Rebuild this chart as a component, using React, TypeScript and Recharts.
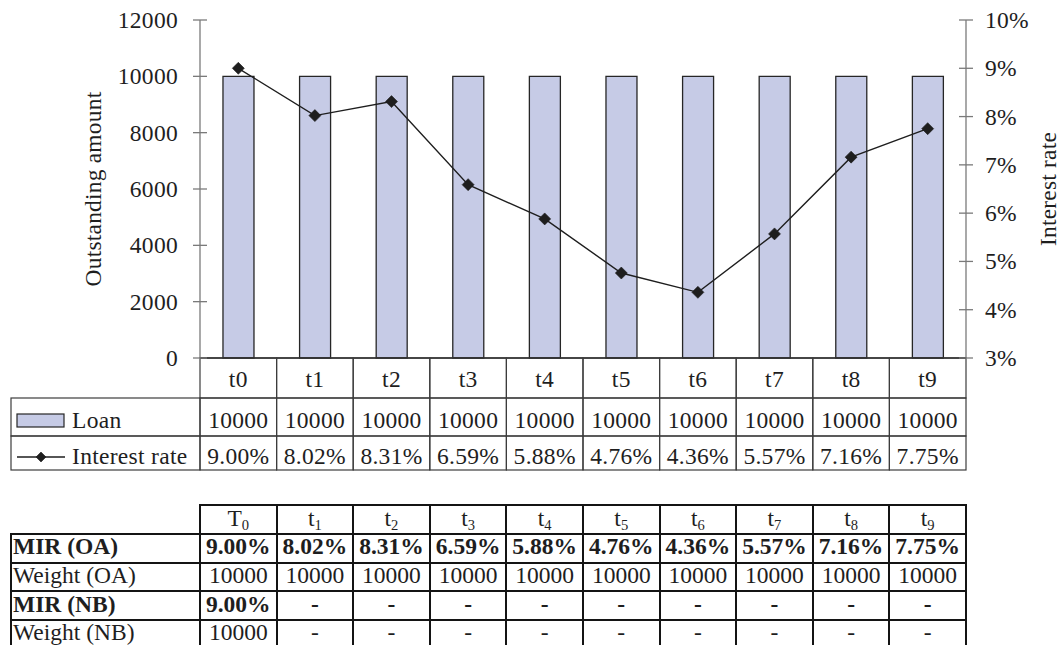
import React from 'react';
import { ComposedChart, Bar, Line, XAxis, YAxis } from 'recharts';

// ---- chart data ----
const periods = ['t0', 't1', 't2', 't3', 't4', 't5', 't6', 't7', 't8', 't9'];
const loanAmounts = [10000, 10000, 10000, 10000, 10000, 10000, 10000, 10000, 10000, 10000];
const interestRates = [9.0, 8.02, 8.31, 6.59, 5.88, 4.76, 4.36, 5.57, 7.16, 7.75];
const amountTicks = [0, 2000, 4000, 6000, 8000, 10000, 12000];
const rateTicks = [3, 4, 5, 6, 7, 8, 9, 10];

// ---- summary table data ----
const headBase = ['T', 't', 't', 't', 't', 't', 't', 't', 't', 't'];
const headSub = ['0', '1', '2', '3', '4', '5', '6', '7', '8', '9'];
const mirOA = [9.0, 8.02, 8.31, 6.59, 5.88, 4.76, 4.36, 5.57, 7.16, 7.75];
const weightOA = [10000, 10000, 10000, 10000, 10000, 10000, 10000, 10000, 10000, 10000];
const mirNB = ['9.00%', '-', '-', '-', '-', '-', '-', '-', '-', '-'];
const weightNB = ['10000', '-', '-', '-', '-', '-', '-', '-', '-', '-'];

const rows = periods.map((period, i) => ({
  period,
  loan: loanAmounts[i],
  rate: interestRates[i],
}));

const FONT = '"Liberation Serif", "Times New Roman", serif';
const FS = 23.5;
const INK = '#1e1e1e';
const GRID = '#3c3c3c';
const AXIS = '#7a7a7a';
const BAR_FILL = '#C6CBE6';
const BAR_EDGE = '#262626';
const LEGEND_LEFT = 11;

const CAT_H = 40;
const LOAN_H = 38;
const RATE_H = 34;

const fmtRate = (v: number) => `${v.toFixed(2)}%`;

const Diamond = ({ cx, cy, r = 6 }: { cx: number; cy: number; r?: number }) => (
  <path d={`M${cx},${cy - r} L${cx + r},${cy} L${cx},${cy + r} L${cx - r},${cy} Z`} fill={INK} stroke={INK} strokeWidth={0.6} />
);

const AmountTick = (props: any) => {
  const { x, y, payload } = props;
  return (
    <g>
      <line x1={x - 7} x2={x + 7} y1={y} y2={y} stroke={AXIS} strokeWidth={1.3} />
      <text x={x - 22} y={y} dy={8} textAnchor="end" fontSize={FS} fill={INK} letterSpacing={0.3}>
        {payload.value}
      </text>
    </g>
  );
};

const RateTick = (props: any) => {
  const { x, y, payload } = props;
  return (
    <g>
      <line x1={x - 7} x2={x + 7} y1={y} y2={y} stroke={AXIS} strokeWidth={1.3} />
      <text x={x + 19} y={y} dy={8} textAnchor="start" fontSize={FS} fill={INK} letterSpacing={0.3}>
        {`${payload.value}%`}
      </text>
    </g>
  );
};

// one cell of the data table under the plot, centred on the category band
function cellTick(
  height: number,
  baseline: number,
  text: (i: number) => string,
  legend?: (left: number, right: number, top: number) => React.ReactNode,
) {
  return (props: any) => {
    const { x, y, payload, index } = props;
    const half = payload.offset ?? 38;
    const i = index ?? payload.index;
    return (
      <g>
        <rect x={x - half} y={y} width={half * 2} height={height} fill="none" stroke={GRID} strokeWidth={1.2} />
        <text x={x} y={y + baseline} textAnchor="middle" fontSize={FS} fill={INK} letterSpacing={0.3}>
          {text(i)}
        </text>
        {i === 0 && legend ? legend(LEGEND_LEFT, x - half, y) : null}
      </g>
    );
  };
}

const PeriodCell = cellTick(CAT_H, 28.5, (i) => periods[i]);

const LoanCell = cellTick(LOAN_H, 30, (i) => String(loanAmounts[i]), (left, right, top) => (
  <g>
    <rect x={left} y={top} width={right - left} height={LOAN_H} fill="none" stroke={GRID} strokeWidth={1.2} />
    <rect x={left + 6} y={top + 16} width={47} height={13} fill={BAR_FILL} stroke={BAR_EDGE} strokeWidth={1.2} />
    <text x={left + 61} y={top + 30} fontSize={FS} fill={INK} letterSpacing={0.3}>Loan</text>
  </g>
));

const RateCell = cellTick(RATE_H, 28, (i) => fmtRate(interestRates[i]), (left, right, top) => (
  <g>
    <rect x={left} y={top} width={right - left} height={RATE_H} fill="none" stroke={GRID} strokeWidth={1.2} />
    <line x1={left + 6} x2={left + 54} y1={top + 21} y2={top + 21} stroke={INK} strokeWidth={1.4} />
    <Diamond cx={left + 30} cy={top + 21} r={5} />
    <text x={left + 61} y={top + 28} fontSize={FS} fill={INK} letterSpacing={0.3}>Interest rate</text>
  </g>
));

const AmountLabel = (props: any) => {
  const vb = props.viewBox || { x: 0, y: 20, width: 200, height: 338 };
  const cx = vb.x + 93;
  const cy = vb.y + vb.height / 2;
  return (
    <text x={cx} y={cy} transform={`rotate(-90, ${cx}, ${cy})`} textAnchor="middle" dominantBaseline="central" fontSize={FS} fill={INK} letterSpacing={0.2}>
      Outstanding amount
    </text>
  );
};

const RateLabel = (props: any) => {
  const vb = props.viewBox || { x: 966, y: 20, width: 95, height: 338 };
  const cx = vb.x + 90;
  const cy = vb.y + vb.height / 2;
  return (
    <text x={cx} y={cy} transform={`rotate(-90, ${cx}, ${cy})`} textAnchor="middle" fontSize={FS} fill={INK} letterSpacing={0.2}>
      Interest rate
    </text>
  );
};

const cell: React.CSSProperties = {
  border: '2px solid #141414',
  padding: '0 0 4px 0',
  textAlign: 'center',
  lineHeight: '18px',
  whiteSpace: 'nowrap',
  overflow: 'hidden',
};
const labelCell: React.CSSProperties = { ...cell, textAlign: 'left', paddingLeft: 1 };

function SummaryTable() {
  const bodyRows: { label: string; bold: boolean; values: string[] }[] = [
    { label: 'MIR (OA)', bold: true, values: mirOA.map(fmtRate) },
    { label: 'Weight (OA)', bold: false, values: weightOA.map(String) },
    { label: 'MIR (NB)', bold: true, values: mirNB },
    { label: 'Weight (NB)', bold: false, values: weightNB },
  ];
  return (
    <table
      style={{
        position: 'absolute',
        left: 10,
        top: 504,
        borderCollapse: 'collapse',
        tableLayout: 'fixed',
        width: 955,
        fontFamily: FONT,
        fontSize: FS,
        color: INK,
      }}
    >
      <colgroup>
        <col style={{ width: 189 }} />
        {periods.map((p) => (
          <col key={p} style={{ width: 76.6 }} />
        ))}
      </colgroup>
      <tbody>
        <tr style={{ height: 29 }}>
          <td style={{ border: 'none' }} />
          {headBase.map((b, i) => (
            <td key={i} style={cell}>
              {b}
              <sub style={{ fontSize: '62%', verticalAlign: '-0.3em', lineHeight: 0 }}>{headSub[i]}</sub>
            </td>
          ))}
        </tr>
        {bodyRows.map((r) => (
          <tr key={r.label} style={{ height: 28.7 }}>
            <td style={{ ...labelCell, fontWeight: r.bold ? 'bold' : 'normal' }}>{r.label}</td>
            {r.values.map((v, i) => (
              <td key={i} style={{ ...cell, fontWeight: r.bold ? 'bold' : 'normal' }}>{v}</td>
            ))}
          </tr>
        ))}
      </tbody>
    </table>
  );
}

export default function App() {
  return (
    <div style={{ position: 'absolute', left: 0, top: 0, width: 1061, height: 645, background: '#fff', overflow: 'hidden', fontFamily: FONT }}>
      <ComposedChart
        width={1061}
        height={645}
        data={rows}
        margin={{ top: 20, right: 0, bottom: 175, left: 0 }}
        barCategoryGap="30%"
        style={{ fontFamily: FONT }}
      >
        <XAxis xAxisId="cat" dataKey="period" height={CAT_H} interval={0} tickLine={false} tickSize={0} tickMargin={0}
          axisLine={{ stroke: INK, strokeWidth: 1.3 }} tick={PeriodCell} />
        <XAxis xAxisId="loan" dataKey="period" height={LOAN_H} interval={0} tickLine={false} tickSize={0} tickMargin={0}
          axisLine={false} tick={LoanCell} />
        <XAxis xAxisId="rate" dataKey="period" height={RATE_H} interval={0} tickLine={false} tickSize={0} tickMargin={0}
          axisLine={false} tick={RateCell} />
        <YAxis yAxisId="amt" width={200} domain={[0, 12000]} ticks={amountTicks} interval={0} tickLine={false}
          tickSize={0} tickMargin={0} axisLine={{ stroke: AXIS, strokeWidth: 1.3 }} tick={AmountTick} label={AmountLabel} />
        <YAxis yAxisId="rate" orientation="right" width={95} domain={[3, 10]} ticks={rateTicks} interval={0}
          tickLine={false} tickSize={0} tickMargin={0} axisLine={{ stroke: AXIS, strokeWidth: 1.3 }} tick={RateTick}
          label={RateLabel} />
        <Bar xAxisId="cat" yAxisId="amt" dataKey="loan" fill={BAR_FILL} stroke={BAR_EDGE} strokeWidth={1.3}
          isAnimationActive={false} />
        <Line xAxisId="cat" yAxisId="rate" dataKey="rate" type="linear" stroke={INK} strokeWidth={1.4}
          dot={(p: any) => <Diamond key={p.index} cx={p.cx} cy={p.cy} />} activeDot={false} isAnimationActive={false} />
      </ComposedChart>
      <SummaryTable />
    </div>
  );
}
